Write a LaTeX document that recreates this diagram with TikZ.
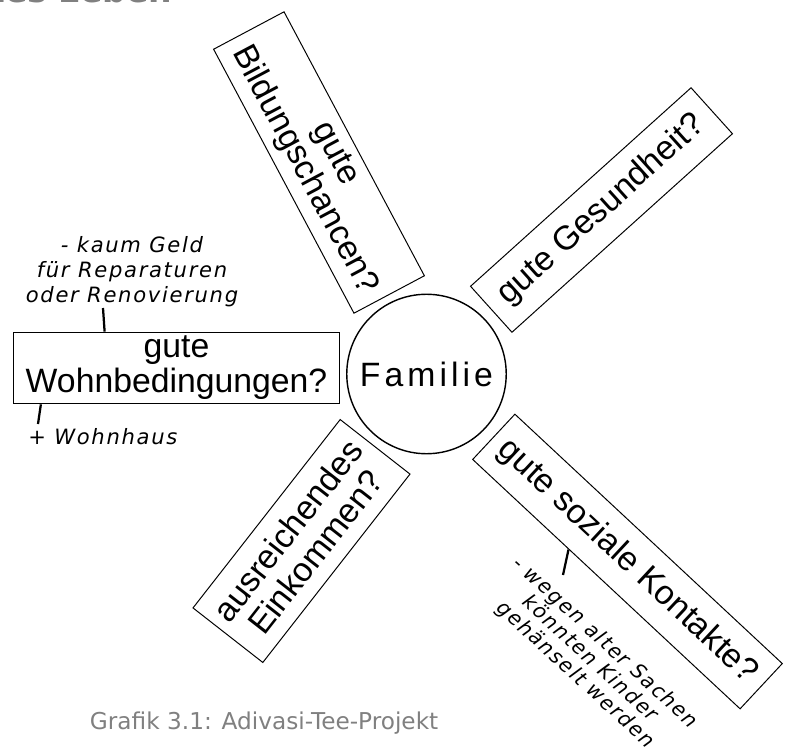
\documentclass[tikz,border=0pt]{standalone}
\usepackage{fontspec}
\setmainfont{Liberation Sans}
\newfontfamily\handfont{DejaVu Sans}[LetterSpace=8]
\newfontfamily\capfont{DejaVu Sans}
\usetikzlibrary{calc}
\definecolor{capgray}{RGB}{128,128,128}

\begin{document}
\begin{tikzpicture}[x=0.025cm, y=-0.025cm,
    frage/.style={draw, line width=0.7pt, inner sep=0pt, align=center, font=\fontsize{24}{25}\selectfont},
    notiz/.style={align=center, inner sep=0pt, font=\handfont\itshape\fontsize{15}{17.7}\selectfont},
    strich/.style={line width=1.6pt}]
    \clip (0,0) rectangle (785,756);

    \node[circle, draw, line width=1pt, minimum size=113.4pt, inner sep=0pt, font=\fontsize{24}{25}\selectfont\addfontfeature{LetterSpace=12}] (familie) at (426.5,374) {Familie};

    \node[frage, minimum width=231.7pt, minimum height=51pt] (wohnen) at (176.5,368) {gute\\Wohnbedingungen?};
    \node[frage, rotate=-62, minimum width=212.6pt, minimum height=56.7pt] (bildung) at (319,162.5) {gute\\Bildungschancen?};
    \node[frage, rotate=42, minimum width=211pt, minimum height=44pt] (gesundheit) at (601.5,210) {gute Gesundheit?};
    \node[frage, rotate=-43, minimum width=260pt, minimum height=44pt] (kontakte) at (627.5,561.5) {gute soziale Kontakte?};
    \node[frage, rotate=52, minimum width=170pt, minimum height=63pt] (einkommen) at (301.5,541) {ausreichendes\\Einkommen?};

    \node[notiz] (geldnotiz) at (132,272) {- kaum Geld\\für Reparaturen\\oder Renovierung};
    \node[notiz, anchor=west] (hausnotiz) at (28,437) {+ Wohnhaus};
    \node[notiz, rotate=-42.5, font=\handfont\itshape\fontsize{14.5}{15.5}\selectfont] (kindernotiz) at (590,659) {- wegen alter Sachen\\könnten Kinder\\gehänselt werden};

    \coordinate (geldstrich) at (103,308);
    \coordinate (hausstrich) at (38,424);
    \coordinate (kinderstrich) at (563,575);
    \draw[strich] ($(wohnen.north west)!0.28!(wohnen.north east)$) -- (geldstrich);
    \draw[strich] ($(wohnen.south west)!0.085!(wohnen.south east)$) -- (hausstrich);
    \draw[strich] ($(kontakte.south west)!0.36!(kontakte.south east)$) -- (kinderstrich);

    \node[font=\capfont\bfseries\fontsize{23.5}{24}\selectfont, text=capgray, anchor=base east] (titel) at (177,3) {gutes Leben};
    \node[font=\capfont\fontsize{16.5}{18}\selectfont, text=capgray, anchor=base west] (grafik) at (85,729) {Grafik 3.1: Adivasi-Tee-Projekt};
\end{tikzpicture}
\end{document}
